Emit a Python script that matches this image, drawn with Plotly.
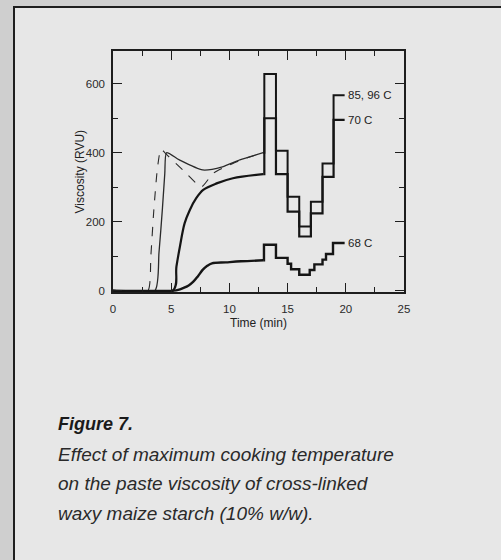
import plotly.graph_objects as go

# ---------------- data ----------------
# smooth heating part
time_96 = [0, 3.0, 3.25, 3.5, 3.8, 4.1, 4.35, 4.6, 6.0, 7.6, 8.6, 10.3, 11.5, 12.9]
visc_96 = [0, 0, 100, 230, 350, 410, 404, 395, 350, 301, 340, 369, 385, 400]

time_85 = [0, 3.6, 3.95, 4.25, 4.45, 4.6, 5.7, 7.7, 9.4, 10.9, 12.9]
visc_85 = [0, 0, 110, 240, 340, 400, 379, 350, 359, 379, 400]

time_70 = [0, 5.15, 5.45, 5.75, 6.15, 6.6, 7.15, 7.75, 8.9, 10.3, 12.9]
visc_70 = [0, 0, 70, 128, 195, 234, 268, 292, 311, 326, 338]

time_68 = [0, 5.2, 5.6, 6.0, 6.5, 6.9, 7.3, 7.7, 8.1, 8.5, 9.7, 11.0, 12.9]
visc_68 = [0, 0, 2, 7, 15, 26, 42, 60, 72, 79, 82, 85, 88]

# stepped holding / cooling part
step_time = [12.9, 13.0, 14.0, 15.0, 16.0, 17.0, 18.0, 18.95, 19.9]
step_85_96 = [400, 628, 406, 272, 186, 258, 369, 567, 567]
step_70 = [338, 500, 338, 229, 157, 224, 330, 495, 495]

step_time_68 = [12.9, 12.97, 14.0, 15.0, 15.3, 16.0, 16.9, 17.3, 18.0, 18.3, 18.9, 19.9]
step_68 = [88, 133, 95, 78, 62, 46, 60, 76, 90, 106, 138, 138]

curve_labels = ["85, 96 C", "70 C", "68 C"]
label_values = [567, 495, 139]

x_ticks = [0, 5, 10, 15, 20, 25]
y_ticks = [0, 200, 400, 600]

caption_title = "Figure 7."
caption_lines = [
    "Effect of maximum cooking temperature",
    "on the paste viscosity of cross-linked",
    "waxy maize starch (10% w/w).",
]

# ---------------- figure ----------------
INK = "#151515"
FONT = "Liberation Sans, Arial"
fig = go.Figure()

fig.add_trace(go.Scatter(x=time_96, y=visc_96, mode="lines",
                         line=dict(color="#2a2a2a", width=1.1, dash="dash", shape="spline", smoothing=0.5),
                         showlegend=False, name="96 C"))
fig.add_trace(go.Scatter(x=time_85, y=visc_85, mode="lines",
                         line=dict(color="#2a2a2a", width=1.3, shape="spline", smoothing=0.6),
                         showlegend=False, name="85 C"))
fig.add_trace(go.Scatter(x=step_time, y=step_85_96, mode="lines", line=dict(color=INK, width=2, shape="hv"),
                         showlegend=False, name="85, 96 C steps"))
fig.add_trace(go.Scatter(x=time_70, y=visc_70, mode="lines", line=dict(color=INK, width=2.2, shape="spline"),
                         showlegend=False, name="70 C"))
fig.add_trace(go.Scatter(x=step_time, y=step_70, mode="lines", line=dict(color=INK, width=2.2, shape="hv"),
                         showlegend=False, name="70 C steps"))
fig.add_trace(go.Scatter(x=time_68, y=visc_68, mode="lines", line=dict(color=INK, width=2.4, shape="spline"),
                         showlegend=False, name="68 C"))
fig.add_trace(go.Scatter(x=step_time_68, y=step_68, mode="lines", line=dict(color=INK, width=2.4, shape="hv"),
                         showlegend=False, name="68 C steps"))

annotations = []
for lab, val in zip(curve_labels, label_values):
    annotations.append(dict(x=step_time[-1], y=val, xref="x", yref="y", text=lab, showarrow=False,
                            xanchor="left", yanchor="middle", xshift=1,
                            font=dict(family=FONT, size=11.5, color="#222")))

L, R, T, B = 113, 97, 51, 268
PW, PH = 501 - L - R, 560 - T - B


def px_to_paper_x(px):
    return (px - L) / PW


def py_to_paper_y(py):
    return (560 - B - py) / PH


# axis titles
annotations.append(dict(x=px_to_paper_x(258.5), y=py_to_paper_y(323), xref="paper", yref="paper",
                        text="Time (min)", showarrow=False, xanchor="center", yanchor="middle",
                        font=dict(family=FONT, size=12, color="#222")))
annotations.append(dict(x=px_to_paper_x(79), y=py_to_paper_y(171.5), xref="paper", yref="paper",
                        text="Viscosity (RVU)", showarrow=False, textangle=-90, xanchor="center", yanchor="middle",
                        font=dict(family=FONT, size=12, color="#222")))

# caption
annotations.append(dict(x=px_to_paper_x(56), y=py_to_paper_y(424), xref="paper", yref="paper",
                        text="<b><i>" + caption_title + "</i></b>", showarrow=False, xanchor="left", yanchor="middle",
                        font=dict(family=FONT, size=18, color="#1a1a1a")))
for i, line in enumerate(caption_lines):
    annotations.append(dict(x=px_to_paper_x(56), y=py_to_paper_y(454 + 29.5 * i), xref="paper", yref="paper",
                            text="<i>" + line + "</i>", showarrow=False, xanchor="left", yanchor="middle",
                            font=dict(family=FONT, size=19, color="#2a2a2a")))

shapes = [
    # textured left / top strips of the page
    dict(type="rect", xref="paper", yref="paper", x0=px_to_paper_x(-2), x1=px_to_paper_x(13.5),
         y0=py_to_paper_y(562), y1=py_to_paper_y(-2), fillcolor="#cfcfcf", line=dict(width=0), layer="below"),
    dict(type="rect", xref="paper", yref="paper", x0=px_to_paper_x(-2), x1=px_to_paper_x(503),
         y0=py_to_paper_y(6.5), y1=py_to_paper_y(-2), fillcolor="#cfcfcf", line=dict(width=0), layer="below"),
    # panel border
    dict(type="line", xref="paper", yref="paper", x0=px_to_paper_x(14), x1=px_to_paper_x(14),
         y0=py_to_paper_y(7), y1=py_to_paper_y(562), line=dict(color="#1e1e1e", width=2)),
    dict(type="line", xref="paper", yref="paper", x0=px_to_paper_x(13), x1=px_to_paper_x(503),
         y0=py_to_paper_y(7), y1=py_to_paper_y(7), line=dict(color="#1e1e1e", width=2)),
]

axis_common = dict(showline=True, linecolor="#1e1e1e", linewidth=1.5, mirror="ticks", ticks="inside",
                   ticklen=9, tickwidth=1.3, tickcolor="#1e1e1e", showgrid=False, zeroline=False,
                   tickfont=dict(family=FONT, size=11.5, color="#2a2a2a"))

fig.update_layout(
    width=501, height=560,
    margin=dict(l=L, r=R, t=T, b=B, autoexpand=False),
    paper_bgcolor="#e7e7e7", plot_bgcolor="#e7e7e7",
    xaxis=dict(range=[0, 25], tickvals=x_ticks, ticktext=[str(v) for v in x_ticks],
               minor=dict(dtick=2.5, ticks="inside", ticklen=5, tickcolor="#1e1e1e", tickwidth=1),
               ticklabelstandoff=5, **axis_common),
    yaxis=dict(range=[-4, 695], tickvals=y_ticks, ticktext=[str(v) for v in y_ticks],
               minor=dict(dtick=100, ticks="inside", ticklen=5, tickcolor="#1e1e1e", tickwidth=1),
               ticklabelstandoff=4, **axis_common),
    annotations=annotations,
    shapes=shapes,
)

fig.write_html("out.html")
